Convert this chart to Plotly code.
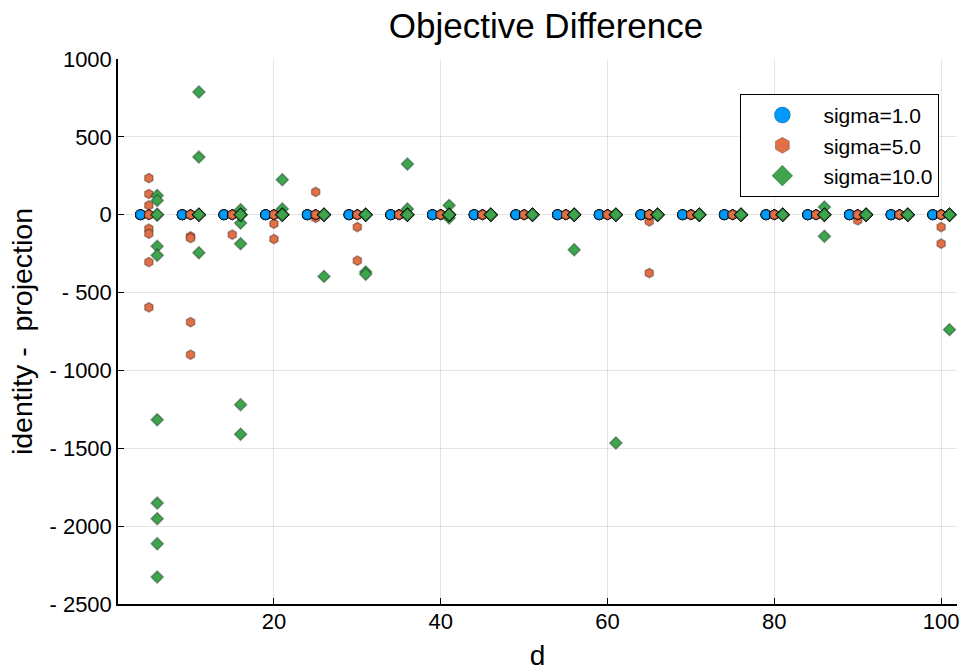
import plotly.graph_objects as go

# d values (problem dimension)
d_values = [5, 10, 15, 20, 25, 30, 35, 40, 45, 50, 55, 60, 65, 70, 75, 80, 85, 90, 95, 100]

# x offsets so the three sigma series sit side by side around each d
x_offsets = {"sigma=1.0": -1, "sigma=5.0": 0, "sigma=10.0": 1}

# objective difference (identity - projection), 12 trials per d
sigma1_values = [
    [0, 0, 0, 0, 0, 0, 0, 0, 0, 0, 0, 0],
    [0, 0, 0, 0, 0, 0, 0, 0, 0, 0, 0, 0],
    [0, 0, 0, 0, 0, 0, 0, 0, 0, 0, 0, 0],
    [0, 0, 0, 0, 0, 0, 0, 0, 0, 0, 0, 0],
    [0, 0, 0, 0, 0, 0, 0, 0, 0, 0, 0, 0],
    [0, 0, 0, 0, 0, 0, 0, 0, 0, 0, 0, 0],
    [0, 0, 0, 0, 0, 0, 0, 0, 0, 0, 0, 0],
    [0, 0, 0, 0, 0, 0, 0, 0, 0, 0, 0, 0],
    [0, 0, 0, 0, 0, 0, 0, 0, 0, 0, 0, 0],
    [0, 0, 0, 0, 0, 0, 0, 0, 0, 0, 0, 0],
    [0, 0, 0, 0, 0, 0, 0, 0, 0, 0, 0, 0],
    [0, 0, 0, 0, 0, 0, 0, 0, 0, 0, 0, 0],
    [0, 0, 0, 0, 0, 0, 0, 0, 0, 0, 0, 0],
    [0, 0, 0, 0, 0, 0, 0, 0, 0, 0, 0, 0],
    [0, 0, 0, 0, 0, 0, 0, 0, 0, 0, 0, 0],
    [0, 0, 0, 0, 0, 0, 0, 0, 0, 0, 0, 0],
    [0, 0, 0, 0, 0, 0, 0, 0, 0, 0, 0, 0],
    [0, 0, 0, 0, 0, 0, 0, 0, 0, 0, 0, 0],
    [0, 0, 0, 0, 0, 0, 0, 0, 0, 0, 0, 0],
    [0, 0, 0, 0, 0, 0, 0, 0, 0, 0, 0, 0],
]

sigma5_values = [
    [235, 133, 60, -90, -122, -304, -595, 0, 0, 0, 0, 0],
    [-139, -150, -690, -899, 0, 0, 0, 0, 0, 0, 0, 0],
    [-128, 0, 0, 0, 0, 0, 0, 0, 0, 0, 0, 0],
    [-58, -156, 0, 0, 0, 0, 0, 0, 0, 0, 0, 0],
    [146, -21, 0, 0, 0, 0, 0, 0, 0, 0, 0, 0],
    [-79, -295, 0, 0, 0, 0, 0, 0, 0, 0, 0, 0],
    [0, 0, 0, 0, 0, 0, 0, 0, 0, 0, 0, 0],
    [0, 0, 0, 0, 0, 0, 0, 0, 0, 0, 0, 0],
    [0, 0, 0, 0, 0, 0, 0, 0, 0, 0, 0, 0],
    [0, 0, 0, 0, 0, 0, 0, 0, 0, 0, 0, 0],
    [0, 0, 0, 0, 0, 0, 0, 0, 0, 0, 0, 0],
    [0, 0, 0, 0, 0, 0, 0, 0, 0, 0, 0, 0],
    [-43, -375, 0, 0, 0, 0, 0, 0, 0, 0, 0, 0],
    [0, 0, 0, 0, 0, 0, 0, 0, 0, 0, 0, 0],
    [0, 0, 0, 0, 0, 0, 0, 0, 0, 0, 0, 0],
    [0, 0, 0, 0, 0, 0, 0, 0, 0, 0, 0, 0],
    [0, 0, 0, 0, 0, 0, 0, 0, 0, 0, 0, 0],
    [-36, 0, 0, 0, 0, 0, 0, 0, 0, 0, 0, 0],
    [0, 0, 0, 0, 0, 0, 0, 0, 0, 0, 0, 0],
    [-79, -186, 0, 0, 0, 0, 0, 0, 0, 0, 0, 0],
]

sigma10_values = [
    [124, 92, -203, -261, -1317, -1852, -1952, -2113, -2327, 0, 0, 0],
    [788, 370, -244, 0, 0, 0, 0, 0, 0, 0, 0, 0],
    [32, -53, -186, -1220, -1410, 0, 0, 0, 0, 0, 0, 0],
    [225, 37, 0, 0, 0, 0, 0, 0, 0, 0, 0, 0],
    [-396, 0, 0, 0, 0, 0, 0, 0, 0, 0, 0, 0],
    [-368, -382, 0, 0, 0, 0, 0, 0, 0, 0, 0, 0],
    [325, 37, 0, 0, 0, 0, 0, 0, 0, 0, 0, 0],
    [60, -21, 0, 0, 0, 0, 0, 0, 0, 0, 0, 0],
    [0, 0, 0, 0, 0, 0, 0, 0, 0, 0, 0, 0],
    [0, 0, 0, 0, 0, 0, 0, 0, 0, 0, 0, 0],
    [-225, 0, 0, 0, 0, 0, 0, 0, 0, 0, 0, 0],
    [-1466, 0, 0, 0, 0, 0, 0, 0, 0, 0, 0, 0],
    [0, 0, 0, 0, 0, 0, 0, 0, 0, 0, 0, 0],
    [0, 0, 0, 0, 0, 0, 0, 0, 0, 0, 0, 0],
    [0, 0, 0, 0, 0, 0, 0, 0, 0, 0, 0, 0],
    [0, 0, 0, 0, 0, 0, 0, 0, 0, 0, 0, 0],
    [49, -139, 0, 0, 0, 0, 0, 0, 0, 0, 0, 0],
    [0, 0, 0, 0, 0, 0, 0, 0, 0, 0, 0, 0],
    [0, 0, 0, 0, 0, 0, 0, 0, 0, 0, 0, 0],
    [-738, 0, 0, 0, 0, 0, 0, 0, 0, 0, 0, 0],
]

y_tick_values = [1000, 500, 0, -500, -1000, -1500, -2000, -2500]
y_tick_labels = ["1000", "500", "0", "- 500", "- 1000", "- 1500", "- 2000", "- 2500"]
x_tick_values = [20, 40, 60, 80, 100]
x_tick_labels = ["20", "40", "60", "80", "100"]

series = [
    ("sigma=1.0", sigma1_values, "#009AFA", "circle"),
    ("sigma=5.0", sigma5_values, "#E26F46", "hexagon"),
    ("sigma=10.0", sigma10_values, "#3EA44E", "diamond"),
]

FONT = "Liberation Sans, Arial, Helvetica, sans-serif"
STROKE = "rgba(0,0,0,0.3)"

fig = go.Figure()
for name, values, color, symbol in series:
    xs, ys = [], []
    for d, trials in zip(d_values, values):
        for v in trials:
            xs.append(d + x_offsets[name])
            ys.append(v)
    fig.add_trace(go.Scatter(
        x=xs, y=ys, mode="markers", name=name, legendgroup=name,
        showlegend=False,
        marker=dict(color=color, symbol=symbol, size=9.5,
                    line=dict(color=STROKE, width=1.5)),
    ))

# legend entries (larger symbols, as in the original legend)
for name, values, color, symbol in series:
    fig.add_trace(go.Scatter(
        x=[None], y=[None], mode="markers", name=name, legendgroup=name,
        marker=dict(color=color, symbol=symbol, size=16,
                    line=dict(color="rgba(0,0,0,0.25)", width=1)),
    ))

fig.update_layout(
    width=964, height=671,
    margin=dict(l=118, r=7, t=59, b=67),
    paper_bgcolor="white", plot_bgcolor="white",
    font=dict(family=FONT, color="black"),
    title=dict(text="Objective Difference", x=546 / 964, xref="container",
               xanchor="center", y=1 - 26 / 671, yanchor="middle",
               font=dict(size=35, family=FONT)),
    legend=dict(x=0.979, xanchor="right", y=0.936, yanchor="top",
                bordercolor="black", borderwidth=1, bgcolor="white",
                font=dict(size=21, family=FONT), itemwidth=72,
                tracegroupgap=0),
    showlegend=True,
)

fig.update_xaxes(
    range=[1.3, 101.9], tickvals=x_tick_values, ticktext=x_tick_labels,
    showgrid=True, gridcolor="rgba(0,0,0,0.1)", gridwidth=1,
    zeroline=False, showline=True, linecolor="black", linewidth=1.5,
    ticks="inside", ticklen=6, tickcolor="black", tickwidth=1,
    tickfont=dict(size=22, family=FONT), ticklabelstandoff=-3,
    title=dict(text="d", font=dict(size=28, family=FONT), standoff=13),
    mirror=False, automargin=False,
)
fig.update_yaxes(
    range=[-2500, 1000], tickvals=y_tick_values, ticktext=y_tick_labels,
    showgrid=True, gridcolor="rgba(0,0,0,0.1)", gridwidth=1,
    zeroline=False, showline=True, linecolor="black", linewidth=1.5,
    ticks="inside", ticklen=6, tickcolor="black", tickwidth=1,
    tickfont=dict(size=22, family=FONT),
    title=dict(text="identity -  projection", font=dict(size=28.5, family=FONT), standoff=8),
    mirror=False, automargin=False,
)

fig.write_html("out.html", config={"displayModeBar": False},
               post_script="document.body.style.margin='0';")
